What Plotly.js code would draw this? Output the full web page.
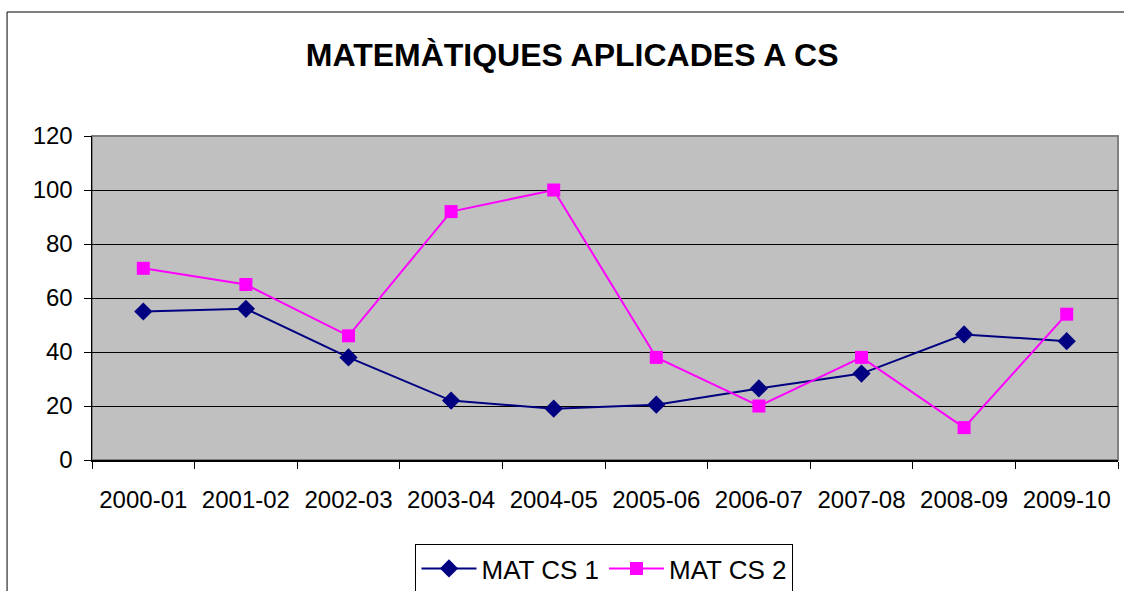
<!DOCTYPE html>
<html>
<head>
<meta charset="utf-8">
<script src="https://cdn.plot.ly/plotly-3.0.1.min.js"></script>
<style>html,body{margin:0;padding:0;background:#fff;}#chart{width:1124px;height:591px;}</style>
</head>
<body>
<div id="chart"></div>
<script>
const categories = ["2000-01","2001-02","2002-03","2003-04","2004-05","2005-06","2006-07","2007-08","2008-09","2009-10"];
const matCS1 = [55, 56, 38, 22, 19, 20.5, 26.5, 32, 46.5, 44];
const matCS2 = [71, 65, 46, 92, 100, 38, 20, 38, 12, 54];
const seriesNames = ["MAT CS 1", "MAT CS 2"];
const yTicks = [0, 20, 40, 60, 80, 100, 120];

const FONT = "Arial, 'Liberation Sans', sans-serif";

const traces = [
  {
    x: categories, y: matCS1, name: seriesNames[0], type: "scatter", mode: "lines+markers",
    line: {color: "#000080", width: 2},
    marker: {symbol: "diamond", size: 14, color: "#000080"}
  },
  {
    x: categories, y: matCS2, name: seriesNames[1], type: "scatter", mode: "lines+markers",
    line: {color: "#ff00ff", width: 2},
    marker: {symbol: "square", size: 13, color: "#ff00ff"}
  }
];

const layout = {
  width: 1124, height: 591,
  margin: {l: 92, r: 6, t: 136, b: 131},
  paper_bgcolor: "#ffffff",
  plot_bgcolor: "#c0c0c0",
  font: {family: FONT, color: "#000"},
  title: {text: "<b>MATEMÀTIQUES APLICADES A CS</b>", font: {family: FONT, size: 32, color: "#000"},
          x: 0.509, xanchor: "center", y: 0.907, yanchor: "middle"},
  xaxis: {
    type: "category", range: [-0.5, 9.5], tickson: "boundaries",
    ticks: "outside", ticklen: 7, tickcolor: "#000", tickwidth: 1,
    showline: true, linecolor: "#000", linewidth: 1.5,
    showgrid: false, zeroline: false, automargin: false,
    tickfont: {family: FONT, size: 24, color: "#000"},
    ticklabelstandoff: 18, fixedrange: true
  },
  yaxis: {
    range: [0, 120], tickvals: yTicks, ticktext: yTicks.map(String),
    ticks: "outside", ticklen: 7, tickcolor: "#000", tickwidth: 1,
    showline: true, linecolor: "#000", linewidth: 1.5,
    showgrid: true, gridcolor: "#000", gridwidth: 1, zeroline: false, automargin: false,
    tickfont: {family: FONT, size: 24, color: "#000"},
    ticklabelstandoff: 6, fixedrange: true
  },
  showlegend: true,
  legend: {
    orientation: "h", x: 0.4995, xanchor: "center",
    yref: "container", y: 0.0795, yanchor: "top",
    bordercolor: "#000", borderwidth: 1, bgcolor: "#fff",
    font: {family: FONT, size: 26, color: "#000"},
    itemwidth: 55, traceorder: "normal"
  },
  shapes: [
    {type: "rect", xref: "paper", yref: "paper", x0: 0, x1: 1, y0: 0, y1: 1,
     line: {color: "#808080", width: 2}, fillcolor: "rgba(0,0,0,0)", layer: "below"},
    {type: "rect", xref: "paper", yref: "paper", x0: -0.0828, x1: 1.05, y0: -0.6, y1: 1.3827,
     line: {color: "#000", width: 1}, fillcolor: "rgba(0,0,0,0)", layer: "below"}
  ]
};

Plotly.newPlot("chart", traces, layout, {displayModeBar: false, staticPlot: true});
</script>
</body>
</html>
